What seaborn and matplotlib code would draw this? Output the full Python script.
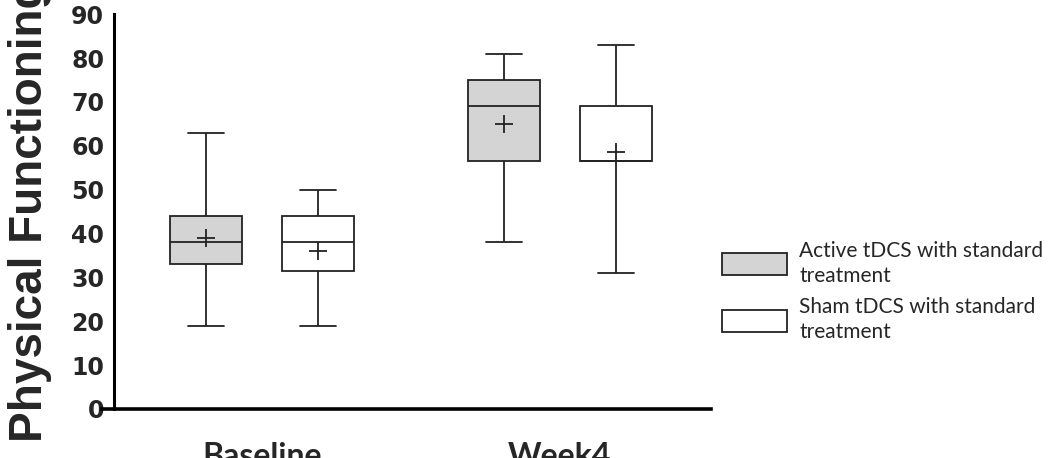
import numpy as np
import pandas as pd
import seaborn as sns
import matplotlib.pyplot as plt
from matplotlib.patches import Patch

# data (min, q1, median, q3, max with a few in-between values
# so that the mean matches the "+" marker)
timepoints = ['Baseline', 'Week4']
groups = ['Active tDCS with standard treatment', 'Sham tDCS with standard treatment']

baseline_active = [19, 30, 33, 36, 38, 40, 44, 48, 63]
baseline_sham = [19, 25, 31.5, 33, 38, 39, 44, 44.5, 50]
week4_active = [38, 50, 56.5, 66, 69, 72, 75, 77.5, 81]
week4_sham = [31, 45, 56.5, 56.5, 56.5, 58, 69, 71, 83]

rows = []
for tp, grp, vals in [('Baseline', groups[0], baseline_active),
                      ('Baseline', groups[1], baseline_sham),
                      ('Week4', groups[0], week4_active),
                      ('Week4', groups[1], week4_sham)]:
    for v in vals:
        rows.append({'time': tp, 'group': grp, 'score': v})
df = pd.DataFrame(rows)

sns.set_style('white')

fig = plt.figure(figsize=(10.5, 4.58), dpi=100)
ax = fig.add_axes([0.0971, 0.107, 0.58, 0.862])

edge = '#222222'
sns.boxplot(data=df, x='time', y='score', hue='group', order=timepoints,
            hue_order=groups, palette=['#d4d4d4', 'white'],
            width=0.75, gap=0.355, whis=(0, 100), showmeans=True,
            linewidth=1.3, linecolor=edge, saturation=1, ax=ax,
            meanprops=dict(marker='+', markersize=13, markeredgecolor=edge,
                           markeredgewidth=1.3),
            legend=False)

ax.set_xlim(-0.537, 1.507)
ax.set_ylim(0, 90)
ax.set_yticks(range(0, 91, 10))

# prism-like axes
sns.despine(ax=ax)
ax.spines['left'].set_position(('data', -0.497))
ax.spines['left'].set_linewidth(2.2)
ax.spines['bottom'].set_linewidth(2.6)
ax.spines['left'].set_color('black')
ax.spines['bottom'].set_color('black')
ax.tick_params(axis='y', length=6, width=2.2, direction='out', pad=1)
ax.tick_params(axis='x', length=9, width=2.6, direction='out', pad=15)

for lab in ax.get_yticklabels():
    lab.set_fontsize(17)
    lab.set_fontweight('bold')
    lab.set_family('DejaVu Sans')
for lab in ax.get_xticklabels():
    lab.set_fontsize(23)
    lab.set_fontweight('bold')
    lab.set_family('Lato')

ax.set_xlabel('')
ax.set_ylabel('Physical Functioning', fontsize=33, fontweight='bold',
              family='Liberation Sans', labelpad=14)

handles = [Patch(facecolor='#d4d4d4', edgecolor=edge, linewidth=1.3),
           Patch(facecolor='white', edgecolor=edge, linewidth=1.3)]
labels = ['Active tDCS with standard\ntreatment', 'Sham tDCS with standard\ntreatment']
leg = ax.legend(handles, labels, loc='upper left', bbox_to_anchor=(0.67, 0.515),
                bbox_transform=fig.transFigure, frameon=False,
                prop={'family': 'Lato', 'size': 15}, handlelength=3.1,
                handleheight=1.25, labelspacing=0.55, handletextpad=0.6)
for t in leg.get_texts():
    t.set_linespacing(1.3)

plt.savefig('out.png', dpi=100)
